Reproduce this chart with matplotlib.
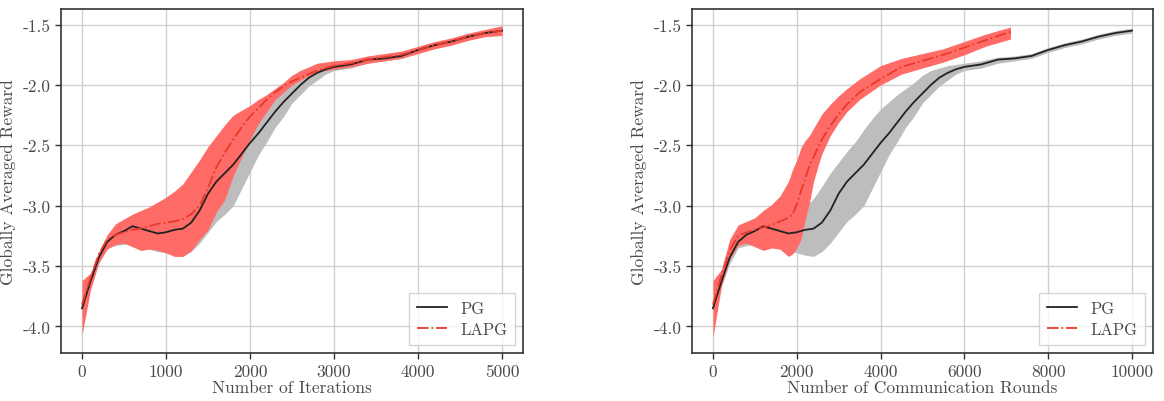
import matplotlib
matplotlib.use("Agg")
import matplotlib.pyplot as plt

# PG: one communication round pair per iteration
pg_iters = [0, 100, 200, 300, 400, 500, 600, 700, 800, 900, 1000, 1100, 1200, 1300,
            1400, 1500, 1600, 1700, 1800, 1900, 2000, 2100, 2200, 2300, 2400, 2500,
            2600, 2700, 2800, 2900, 3000, 3200, 3400, 3600, 3800, 4000, 4200, 4400,
            4600, 4800, 5000]
pg_rounds = [0, 200, 400, 600, 800, 1000, 1200, 1400, 1600, 1800, 2000, 2200, 2400,
             2600, 2800, 3000, 3200, 3400, 3600, 3800, 4000, 4200, 4400, 4600, 4800,
             5000, 5200, 5400, 5600, 5800, 6000, 6400, 6800, 7200, 7600, 8000, 8400,
             8800, 9200, 9600, 10000]
pg_mean = [-3.85, -3.63, -3.43, -3.30, -3.24, -3.21, -3.17, -3.19, -3.21, -3.23, -3.22,
           -3.20, -3.19, -3.14, -3.04, -2.90, -2.80, -2.73, -2.66, -2.57, -2.48, -2.40,
           -2.31, -2.22, -2.14, -2.07, -2.00, -1.94, -1.90, -1.87, -1.85, -1.83, -1.79,
           -1.78, -1.76, -1.71, -1.67, -1.64, -1.60, -1.57, -1.55]
pg_low = [-3.88, -3.67, -3.48, -3.35, -3.33, -3.32, -3.31, -3.33, -3.36, -3.38, -3.39,
          -3.41, -3.42, -3.38, -3.31, -3.22, -3.13, -3.07, -3.00, -2.86, -2.72, -2.58,
          -2.47, -2.35, -2.26, -2.15, -2.08, -2.01, -1.96, -1.91, -1.88, -1.86, -1.82,
          -1.80, -1.78, -1.73, -1.69, -1.66, -1.62, -1.59, -1.57]
pg_high = [-3.80, -3.60, -3.40, -3.27, -3.20, -3.16, -3.12, -3.12, -3.12, -3.10, -3.06,
           -3.01, -2.94, -2.84, -2.73, -2.64, -2.55, -2.47, -2.37, -2.28, -2.20, -2.14,
           -2.08, -2.03, -1.98, -1.92, -1.88, -1.86, -1.84, -1.83, -1.82, -1.80, -1.77,
           -1.76, -1.74, -1.69, -1.65, -1.62, -1.58, -1.55, -1.53]

# LAPG against iterations
lapg_iters = pg_iters
lapg_mean_it = [-3.82, -3.60, -3.40, -3.28, -3.24, -3.22, -3.20, -3.19, -3.17, -3.15,
                -3.14, -3.13, -3.11, -3.07, -3.00, -2.85, -2.68, -2.56, -2.45, -2.35,
                -2.26, -2.19, -2.12, -2.06, -2.01, -1.97, -1.94, -1.91, -1.88, -1.86,
                -1.84, -1.82, -1.79, -1.77, -1.75, -1.71, -1.67, -1.64, -1.60, -1.57, -1.55]
lapg_low_it = [-4.07, -3.70, -3.47, -3.36, -3.32, -3.31, -3.34, -3.37, -3.36, -3.37,
               -3.39, -3.42, -3.42, -3.37, -3.28, -3.20, -3.05, -2.95, -2.75, -2.60,
               -2.45, -2.32, -2.22, -2.12, -2.06, -2.00, -1.96, -1.92, -1.89, -1.88,
               -1.87, -1.85, -1.82, -1.80, -1.78, -1.74, -1.70, -1.67, -1.63, -1.60, -1.59]
lapg_high_it = [-3.62, -3.56, -3.38, -3.24, -3.15, -3.11, -3.07, -3.04, -3.01, -2.97,
                -2.93, -2.88, -2.82, -2.72, -2.62, -2.51, -2.42, -2.33, -2.25, -2.21,
                -2.17, -2.12, -2.08, -2.03, -1.98, -1.92, -1.88, -1.85, -1.82, -1.81,
                -1.80, -1.79, -1.76, -1.74, -1.72, -1.68, -1.64, -1.61, -1.57, -1.54, -1.51]

# LAPG against communication rounds
lapg_rounds = [0, 200, 400, 600, 800, 1000, 1200, 1400, 1600, 1800, 1900, 2000, 2100,
               2200, 2300, 2400, 2500, 2600, 2800, 3000, 3200, 3500, 4000, 4500, 5000,
               5500, 6000, 6500, 7100]
lapg_mean_rd = [-3.82, -3.58, -3.37, -3.25, -3.22, -3.20, -3.18, -3.16, -3.13, -3.10,
                -3.07, -2.99, -2.88, -2.78, -2.67, -2.60, -2.52, -2.45, -2.34, -2.24,
                -2.16, -2.06, -1.95, -1.85, -1.80, -1.75, -1.69, -1.63, -1.56]
lapg_low_rd = [-4.09, -3.67, -3.44, -3.33, -3.31, -3.34, -3.37, -3.35, -3.36, -3.42,
               -3.40, -3.35, -3.28, -3.12, -2.98, -2.80, -2.68, -2.57, -2.42, -2.31,
               -2.22, -2.12, -2.00, -1.91, -1.86, -1.81, -1.75, -1.68, -1.62]
lapg_high_rd = [-3.62, -3.53, -3.28, -3.16, -3.13, -3.10, -3.04, -2.99, -2.92, -2.80,
                -2.70, -2.62, -2.52, -2.46, -2.42, -2.36, -2.30, -2.24, -2.16, -2.09,
                -2.03, -1.95, -1.84, -1.78, -1.74, -1.70, -1.64, -1.58, -1.52]

x_labels = ["Number of Iterations", "Number of Communication Rounds"]
y_label = "Globally Averaged Reward"

plt.rcParams["font.family"] = "serif"
plt.rcParams["font.serif"] = ["cmr10", "DejaVu Serif"]
plt.rcParams["mathtext.fontset"] = "cm"
plt.rcParams["axes.unicode_minus"] = False
plt.rcParams["axes.formatter.use_mathtext"] = False

text_col = "#4a4a4a"
grey_fill = "#bdbdbd"
red_fill = "#ff6b66"
red_line = "#e8392b"

fig = plt.figure(figsize=(11.64, 4.02), dpi=100)
ax1 = fig.add_axes([0.0524, 0.1194, 0.397, 0.856])
ax2 = fig.add_axes([0.5945, 0.1194, 0.396, 0.856])

panels = [
    (ax1, pg_iters, lapg_iters, lapg_mean_it, lapg_low_it, lapg_high_it, x_labels[0]),
    (ax2, pg_rounds, lapg_rounds, lapg_mean_rd, lapg_low_rd, lapg_high_rd, x_labels[1]),
]

for ax, pg_x, lx, lmean, llow, lhigh, xlab in panels:
    ax.fill_between(pg_x, pg_low, pg_high, color=grey_fill, lw=0, zorder=2)
    ax.fill_between(lx, llow, lhigh, color=red_fill, lw=0, zorder=3)
    ax.plot(pg_x, pg_mean, color="#222222", lw=1.3, label="PG", zorder=4)
    ax.plot(lx, lmean, color=red_line, lw=1.3, ls="-.", label="LAPG", zorder=5)

    ax.set_ylim(-4.22, -1.37)
    ax.set_yticks([-4.0, -3.5, -3.0, -2.5, -2.0, -1.5])
    ax.grid(True, color="#d0d0d0", lw=1.0, zorder=0)
    ax.set_axisbelow(True)
    for sp in ax.spines.values():
        sp.set_color("#333333")
        sp.set_linewidth(1.2)
    ax.tick_params(colors=text_col, labelsize=12.5, length=4, width=1.0)
    ax.tick_params(axis="both", color="#333333")
    ax.set_xlabel(xlab, fontsize=12.5, color=text_col, labelpad=1)
    ax.set_ylabel(y_label, fontsize=12.5, color=text_col, labelpad=5)
    leg = ax.legend(loc="lower right", fontsize=12, frameon=True, fancybox=False,
                    handlelength=1.8, borderpad=0.45, labelspacing=0.35,
                    handletextpad=0.8)
    leg.get_frame().set_edgecolor("#cccccc")
    for t in leg.get_texts():
        t.set_color(text_col)

ax1.set_xticks([0, 1000, 2000, 3000, 4000, 5000])
ax2.set_xticks([0, 2000, 4000, 6000, 8000, 10000])

fig.savefig("out.png", dpi=100)
